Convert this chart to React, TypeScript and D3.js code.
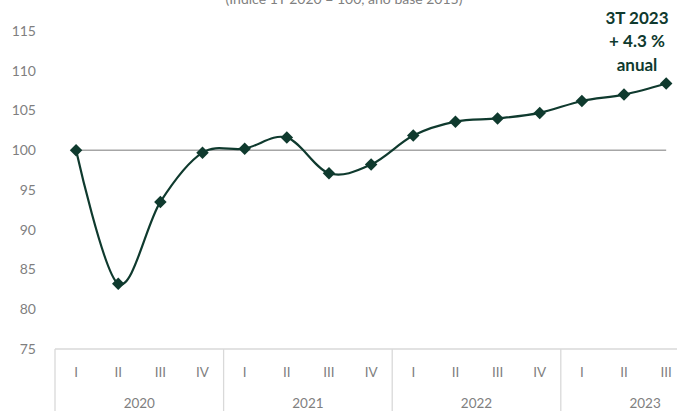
import * as d3 from 'd3'
import { useEffect, useRef } from 'react'

// quarterly index, 1T 2020 = 100
const years = ['2020', '2021', '2022', '2023']
const quarters = ['I', 'II', 'III', 'IV', 'I', 'II', 'III', 'IV', 'I', 'II', 'III', 'IV', 'I', 'II', 'III']
const indexValues = [100, 83.2, 93.5, 99.7, 100.2, 101.6, 97.1, 98.2, 101.85, 103.6, 104.0, 104.7, 106.2, 107.0, 108.4]
const baseValues = quarters.map(() => 100)
const yTicks = [75, 80, 85, 90, 95, 100, 105, 110, 115]
const noteLines = ['3T 2023', '+ 4.3 %', 'anual']
const subtitle = '(Índice 1T 2020 = 100, ano base 2015)'

export default function App() {
  const ref = useRef<SVGSVGElement>(null)

  useEffect(() => {
    const svg = d3.select(ref.current)
    svg.selectAll('*').remove()
    const width = 677
    const height = 411
    const margin = { top: 31, left: 55, bottom: 62 }
    const step = 42.15
    const green = '#0f3a2e'
    const font = 'Lato, "Open Sans", sans-serif'

    const x = d3
      .scaleBand<number>()
      .domain(quarters.map((_, i) => i))
      .range([margin.left, margin.left + step * quarters.length])
      .padding(0)
    const cx = (i: number) => (x(i) as number) + x.bandwidth() / 2

    const y = d3
      .scaleLinear()
      .domain([75, 115])
      .range([height - margin.bottom, margin.top])

    // subtitle (cut off at the top, as in the source)
    svg.append('text')
      .attr('x', 344)
      .attr('y', 4)
      .attr('text-anchor', 'middle')
      .attr('font-family', font)
      .attr('font-size', 14)
      .attr('fill', '#808080')
      .text(subtitle)

    // y labels
    svg.append('g')
      .selectAll('text')
      .data(yTicks)
      .join('text')
      .attr('x', 36)
      .attr('y', (d) => y(d))
      .attr('dy', '0.35em')
      .attr('text-anchor', 'end')
      .attr('font-family', font)
      .attr('font-size', 14)
      .attr('fill', '#7f7f7f')
      .text((d) => d)

    // category axis frame
    const axisY = y(75)
    const axisG = svg.append('g').attr('stroke', '#d9d9d9').attr('stroke-width', 1.3)
    axisG.append('line')
      .attr('x1', margin.left).attr('x2', width + 20)
      .attr('y1', axisY).attr('y2', axisY)
    axisG.selectAll('line.sep')
      .data(years.map((_, k) => k * 4))
      .join('line')
      .attr('class', 'sep')
      .attr('x1', (i) => x(i) as number)
      .attr('x2', (i) => x(i) as number)
      .attr('y1', axisY)
      .attr('y2', height + 5)

    svg.append('g')
      .selectAll('text')
      .data(quarters)
      .join('text')
      .attr('x', (_, i) => cx(i))
      .attr('y', axisY + 23)
      .attr('dy', '0.35em')
      .attr('text-anchor', 'middle')
      .attr('font-family', font)
      .attr('font-size', 13.5)
      .attr('fill', '#7f7f7f')
      .text((d) => d)

    svg.append('g')
      .selectAll('text')
      .data(years)
      .join('text')
      .attr('x', (_, k) => (x(k * 4) as number) + step * 2)
      .attr('y', axisY + 54)
      .attr('dy', '0.35em')
      .attr('text-anchor', 'middle')
      .attr('font-family', font)
      .attr('font-size', 13.5)
      .attr('fill', '#7f7f7f')
      .text((d) => d)

    // base 100 line
    const baseLine = d3.line<number>().x((_, i) => cx(i)).y((d) => y(d))
    svg.append('path')
      .attr('d', baseLine(baseValues))
      .attr('fill', 'none')
      .attr('stroke', '#a6a6a6')
      .attr('stroke-width', 1.5)

    // smoothed series
    const line = d3
      .line<number>()
      .x((_, i) => cx(i))
      .y((d) => y(d))
      .curve(d3.curveCardinal.tension(0))
    svg.append('path')
      .attr('d', line(indexValues))
      .attr('fill', 'none')
      .attr('stroke', green)
      .attr('stroke-width', 2.2)

    const diamond = d3.symbol().type(d3.symbolSquare).size(78)
    svg.append('g')
      .selectAll('path')
      .data(indexValues)
      .join('path')
      .attr('d', diamond)
      .attr('transform', (d, i) => `translate(${cx(i)},${y(d)}) rotate(45)`)
      .attr('fill', green)

    // annotation
    svg.append('g')
      .selectAll('text')
      .data(noteLines)
      .join('text')
      .attr('x', 637)
      .attr('y', (_, i) => 18 + i * 23.5)
      .attr('dy', '0.35em')
      .attr('text-anchor', 'middle')
      .attr('font-family', font)
      .attr('font-weight', 'bold')
      .attr('font-size', 17)
      .attr('fill', green)
      .text((d) => d)
  }, [])

  return (
    <svg
      ref={ref}
      width={677}
      height={411}
      style={{ position: 'absolute', left: 0, top: 0, background: '#fff' }}
    />
  )
}
